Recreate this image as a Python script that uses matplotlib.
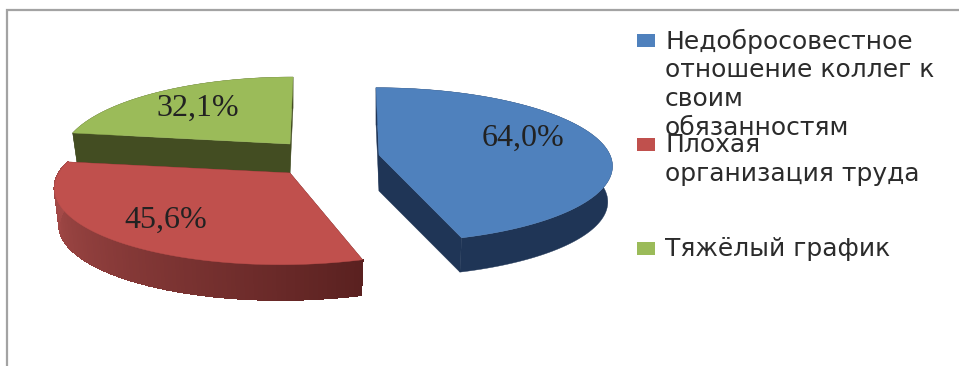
import numpy as np
from matplotlib import pyplot as plt
from matplotlib.colors import to_rgb
from matplotlib.patches import Polygon, Rectangle

values = [64.0, 45.6, 32.1]
categories = ["Недобросовестное\nотношение коллег к\nсвоим\nобязанностям",
              "Плохая\nорганизация труда",
              "Тяжёлый график"]
top_colors = ["#4f81bd", "#c0504d", "#9bbb59"]
wall_colors = ["#1f3556", "#5a2120", "#434d22"]

# cx, cy = wedge tip; a, b = radii; p = perspective; s = shear; depth = thickness
blue_view = dict(cx=379, cy=155, a=231, b=76, p=0.13, s=-3.4, depth=36)
red_view = dict(cx=290, cy=173, a=231, b=77, p=0.16, s=8, depth=37)
green_view = dict(cx=290, cy=144, a=225, b=77, p=0.15, s=3.5, depth=30)
views = [blue_view, red_view, green_view]
label_pos = [(523, 138), (166, 220), (198, 108)]
legend_y = [34, 138, 242]


def project(theta, v):
    # theta in degrees, clockwise from 12 o'clock
    t = np.radians(theta)
    w = 1 + v["p"] * np.cos(t)
    x = v["cx"] + (v["a"] * np.sin(t) + v["s"] * np.cos(t)) / w
    y = v["cy"] - v["b"] * np.cos(t) / w
    return np.column_stack([x, y])


def lower(pts, v):
    # same points on the underside of the slice
    out = pts.copy().astype(float)
    out[:, 0] = v["cx"] + (out[:, 0] - v["cx"]) * 0.98
    out[:, 1] = v["cy"] + (out[:, 1] - v["cy"]) * 0.98 + v["depth"]
    return out


def mix(c1, c2, f):
    return tuple((1 - f) * np.array(to_rgb(c1)) + f * np.array(to_rgb(c2)))


fig = plt.figure(figsize=(9.59, 3.66), dpi=100)
ax = fig.add_axes([0, 0, 1, 1])
ax.set_xlim(0, 959)
ax.set_ylim(366, 0)
ax.axis("off")

# frame, open on the right and bottom
ax.plot([7, 7, 959], [366, 10, 10], color="#a3a3a3", lw=1.6, solid_joinstyle="miter")

edges = np.cumsum([0] + values) / sum(values) * 360
draw_order = [2, 0, 1]

for i in draw_order:
    v = views[i]
    start, end = edges[i], edges[i + 1]
    tip = np.array([[v["cx"], v["cy"]]], dtype=float)
    thetas = np.linspace(start, end, 120)
    arc = project(thetas, v)

    # flat walls running out from the tip
    for th in (start, end):
        rim = project(np.array([th]), v)
        quad = np.vstack([tip, rim, lower(rim, v), lower(tip, v)])
        ax.add_patch(Polygon(quad, closed=True, fc=wall_colors[i], ec=wall_colors[i], lw=0.3))

    # curved outer wall
    arc_low = lower(arc, v)
    ax.add_patch(Polygon(np.vstack([arc, arc_low[::-1]]), closed=True,
                         fc=wall_colors[i], ec=wall_colors[i], lw=0.3))

    # red one shades from left to right, strips drawn without smoothing to avoid seams
    if i == 1:
        for k in range(len(arc) - 1):
            f = (end - thetas[k]) / (end - start)
            c = mix("#a84c4a", wall_colors[1], f ** 1.3)
            quad = np.vstack([arc[k], arc[k + 1], arc_low[k + 1], arc_low[k]])
            ax.add_patch(Polygon(quad, closed=True, fc=c, ec=c, lw=0.8, antialiased=False))

    ax.add_patch(Polygon(np.vstack([tip, arc]), closed=True, fc=top_colors[i], ec=top_colors[i], lw=0.3))

for val, (x, y) in zip(values, label_pos):
    ax.text(x, y, f"{val:.1f}%".replace(".", ","), family="Liberation Serif", fontsize=23,
            color="#222222", ha="center", va="center")

for name, color, y in zip(categories, top_colors, legend_y):
    ax.add_patch(Rectangle((637, y), 18, 13, fc=color, ec="none"))
    for n, line in enumerate(name.split("\n")):
        ax.text(665, y + 7 + n * 29, line, family="DejaVu Sans", fontsize=18,
                color="#2b2b2b", ha="left", va="center")

fig.savefig("out.png", dpi=100)
